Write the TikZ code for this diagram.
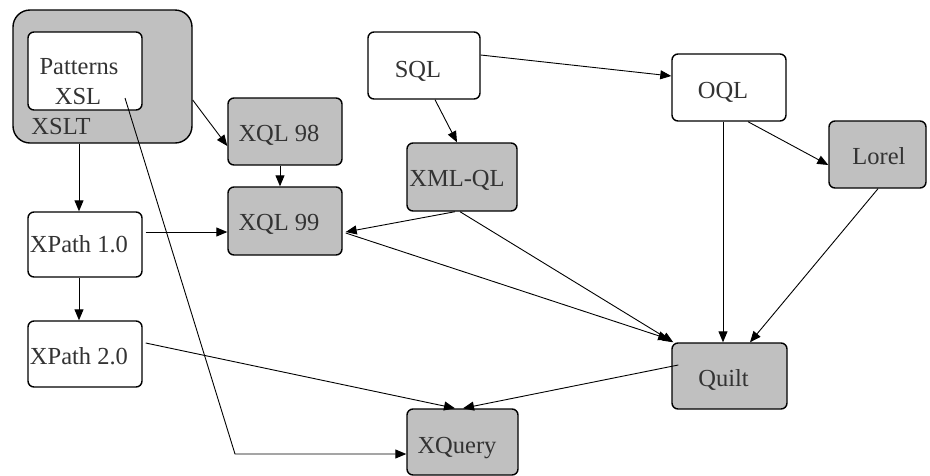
\documentclass[tikz,border=0pt]{standalone}
\usepackage{fontspec}
\setmainfont{Liberation Serif}
\usetikzlibrary{arrows.meta}
\definecolor{boxgray}{HTML}{C0C0C0}
\definecolor{ink}{HTML}{333333}
\begin{document}
\begin{tikzpicture}[x=1pt,y=-1pt,
  box/.style={draw=black, line width=1.4pt, rounded corners=6pt, fill=white, inner sep=0pt},
  gbox/.style={box, fill=boxgray},
  lbl/.style={text=ink, font=\fontsize{24.5}{30}\selectfont, inner sep=0pt, anchor=base},
  conn/.style={line width=0.9pt, -{Triangle[length=11pt,width=9pt]}},
]
\useasboundingbox (0,0) rectangle (930,475);

% boxes
\node[gbox, rounded corners=17pt, minimum width=179pt, minimum height=133pt] (xslt) at (102.5,76.5) {};
\node[box, minimum width=114pt, minimum height=78pt] (pat) at (85,71) {};
\node[gbox, minimum width=114pt, minimum height=67pt] (xql98) at (285,131.5) {};
\node[gbox, minimum width=114pt, minimum height=68pt] (xql99) at (285,221) {};
\node[box, minimum width=114pt, minimum height=65pt] (xp1) at (85,244.5) {};
\node[box, minimum width=114pt, minimum height=66pt] (xp2) at (85,354) {};
\node[box, minimum width=112pt, minimum height=67pt] (sql) at (424,65.5) {};
\node[box, minimum width=114pt, minimum height=67pt] (oql) at (729,87.5) {};
\node[gbox, minimum width=110pt, minimum height=68pt] (xmlql) at (462,177) {};
\node[gbox, minimum width=97pt, minimum height=67pt] (lorel) at (877.5,154.5) {};
\node[gbox, minimum width=115pt, minimum height=66pt] (quilt) at (729.5,376) {};
\node[gbox, minimum width=111pt, minimum height=66pt] (xquery) at (462.5,442) {};

% labels
\node[lbl] (t-pat) at (79,74) {Patterns};
\node[lbl] (t-xsl) at (78,104) {XSL};
\node[lbl] (t-xslt) at (61,134) {XSLT};
\node[lbl] (t-xql98) at (279,141) {XQL 98};
\node[lbl] (t-xql99) at (279,230) {XQL 99};
\node[lbl] (t-xp1) at (79,252) {XPath 1.0};
\node[lbl] (t-xp2) at (79,364) {XPath 2.0};
\node[lbl] (t-sql) at (418,77) {SQL};
\node[lbl] (t-oql) at (723,98) {OQL};
\node[lbl] (t-xmlql) at (457,186) {XML-QL};
\node[lbl] (t-lorel) at (879,164) {Lorel};
\node[lbl] (t-quilt) at (723.5,386) {Quilt};
\node[lbl] (t-xquery) at (457,453) {XQuery};

% connectors
\coordinate (bend) at (235,454);
\draw[conn] ([yshift=-23.5pt]xslt.east) -- ([yshift=-14.5pt]xql98.west);
\draw[conn] ([xshift=-23.5pt]xslt.south) -- ([xshift=-6pt]xp1.north);
\draw[conn] ([xshift=-5pt]xql98.south) -- ([xshift=-5pt]xql99.north);
\draw[conn] ([xshift=3pt,yshift=12.5pt]xp1.east) -- ([yshift=-11pt]xql99.west);
\draw[conn] ([xshift=-6pt]xp1.south) -- ([xshift=-6pt]xp2.north);
\draw[conn] ([xshift=40pt,yshift=-27pt]pat.center) -- (bend) -- (bend -| xquery.west);
\draw[conn] ([yshift=10.5pt]sql.east) -- ([yshift=11.5pt]oql.west);
\draw[conn] ([xshift=11pt]sql.south) -- ([xshift=-5pt]xmlql.north);
\draw[conn] ([xshift=19pt]oql.south) -- ([yshift=-10.5pt]lorel.west);
\draw[conn] ([xshift=-6pt]oql.south) -- ([xshift=-6.5pt]quilt.north);
\draw[conn] ([xshift=0.5pt]lorel.south) -- ([xshift=20.5pt]quilt.north);
\draw[conn] ([xshift=-7pt]xmlql.south) -- ([xshift=3pt,yshift=-11pt]xql99.east);
\draw[conn] ([xshift=-2pt]xmlql.south) -- ([xshift=2pt]quilt.north west);
\draw[conn] ([xshift=3pt,yshift=-12pt]xql99.east) -- ([xshift=-2pt,yshift=3pt]quilt.north west);
\draw[conn] ([xshift=3pt,yshift=11pt]xp2.east) -- ([xshift=-7.5pt]xquery.north);
\draw[conn] ([xshift=7pt,yshift=11pt]quilt.west) -- ([xshift=0.5pt]xquery.north);
\end{tikzpicture}
\end{document}
